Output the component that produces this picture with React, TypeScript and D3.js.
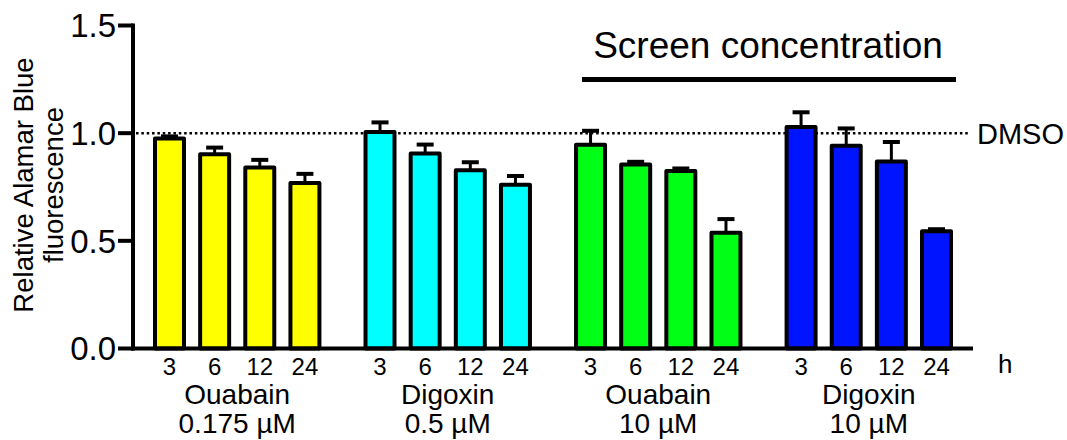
import React from "react";
import * as d3 from "d3";

// ---- Data ----
const drugNames = ["Ouabain", "Digoxin", "Ouabain", "Digoxin"];
const concentrations = ["0.175 µM", "0.5 µM", "10 µM", "10 µM"];
const hours = ["3", "6", "12", "24"];

const ouabainLowMean = [0.975, 0.902, 0.84, 0.769];
const ouabainLowSem = [0.01, 0.031, 0.036, 0.042];
const digoxinLowMean = [1.005, 0.905, 0.828, 0.761];
const digoxinLowSem = [0.045, 0.042, 0.037, 0.04];
const ouabainHighMean = [0.946, 0.855, 0.824, 0.538];
const ouabainHighSem = [0.065, 0.012, 0.012, 0.063];
const digoxinHighMean = [1.029, 0.942, 0.869, 0.544];
const digoxinHighSem = [0.068, 0.08, 0.09, 0.01];

const yTicks = [0, 0.5, 1.0, 1.5];
const dmsoLevel = 1.0;

const groupColors = ["#ffff00", "#00ffff", "#00ff14", "#0014ff"];

const means = [ouabainLowMean, digoxinLowMean, ouabainHighMean, digoxinHighMean];
const sems = [ouabainLowSem, digoxinLowSem, ouabainHighSem, digoxinHighSem];

const W = 1067;
const H = 440;
const FONT = "'Liberation Sans', Arial, Helvetica, sans-serif";

export default function App() {
  const groupIds = drugNames.map((_, i) => String(i));
  const y = d3.scaleLinear().domain([0, 1.5]).range([348.5, 25.5]);
  const xOuter = d3
    .scaleBand<string>()
    .domain(groupIds)
    .range([155, 951])
    .paddingInner(0.219)
    .paddingOuter(0);
  const xInner = d3
    .scaleBand<string>()
    .domain(hours)
    .range([0, xOuter.bandwidth()])
    .paddingInner(0.358)
    .paddingOuter(0);

  const axisX = 133;
  const axisEnd = 973;
  const bw = xInner.bandwidth();

  return (
    <svg
      width={W}
      height={H}
      viewBox={`0 0 ${W} ${H}`}
      style={{ position: "absolute", left: 0, top: 0, background: "#fff" }}
      fontFamily={FONT}
    >
      <rect x={0} y={0} width={W} height={H} fill="#fff" />

      {/* DMSO dotted reference line */}
      <line
        x1={axisX + 3}
        x2={970}
        y1={y(dmsoLevel)}
        y2={y(dmsoLevel)}
        stroke="#000"
        strokeWidth={2.5}
        strokeDasharray="2.5 2.85"
      />
      <text x={977} y={y(dmsoLevel) + 11} fontSize={29} fill="#000">
        DMSO
      </text>

      {/* Bars */}
      {groupIds.map((g, gi) => (
        <g key={g} transform={`translate(${xOuter(g)},0)`}>
          {hours.map((h, hi) => {
            const v = means[gi][hi];
            const e = sems[gi][hi];
            const x0 = xInner(h)!;
            const cx = x0 + bw / 2;
            return (
              <g key={h}>
                <line
                  x1={cx}
                  x2={cx}
                  y1={y(v)}
                  y2={y(v + e)}
                  stroke="#000"
                  strokeWidth={3}
                />
                <line
                  x1={cx - 8.5}
                  x2={cx + 8.5}
                  y1={y(v + e)}
                  y2={y(v + e)}
                  stroke="#000"
                  strokeWidth={4}
                />
                <rect
                  x={x0}
                  y={y(v)}
                  width={bw}
                  height={y(0) - y(v)}
                  fill={groupColors[gi]}
                  stroke="#000"
                  strokeWidth={4}
                  strokeLinejoin="round"
                />
                <text
                  x={cx}
                  y={375}
                  fontSize={24}
                  textAnchor="middle"
                  fill="#000"
                >
                  {h}
                </text>
              </g>
            );
          })}
          <text
            x={xOuter.bandwidth() / 2}
            y={404}
            fontSize={28}
            textAnchor="middle"
            fill="#000"
          >
            {drugNames[gi]}
          </text>
          <text
            x={xOuter.bandwidth() / 2}
            y={432.5}
            fontSize={28}
            textAnchor="middle"
            fill="#000"
          >
            {concentrations[gi]}
          </text>
        </g>
      ))}

      {/* Y axis */}
      <line
        x1={axisX}
        x2={axisX}
        y1={y(1.5) - 2}
        y2={y(0) + 2}
        stroke="#000"
        strokeWidth={4}
      />
      {yTicks.map((t) => (
        <g key={t}>
          <line
            x1={axisX - 15}
            x2={axisX}
            y1={y(t)}
            y2={y(t)}
            stroke="#000"
            strokeWidth={4}
          />
          <text
            x={116}
            y={y(t) + 11.8}
            fontSize={33}
            textAnchor="end"
            fill="#000"
          >
            {d3.format(".1f")(t)}
          </text>
        </g>
      ))}

      {/* X axis */}
      <line
        x1={axisX - 2}
        x2={axisEnd}
        y1={y(0)}
        y2={y(0)}
        stroke="#000"
        strokeWidth={4}
      />
      <text x={998} y={373} fontSize={26} fill="#000">
        h
      </text>

      {/* Y label */}
      <text
        transform="translate(33,185) rotate(-90)"
        fontSize={27.5}
        textAnchor="middle"
        fill="#000"
      >
        Relative Alamar Blue
      </text>
      <text
        transform="translate(63,185) rotate(-90)"
        fontSize={27.5}
        textAnchor="middle"
        fill="#000"
      >
        fluorescence
      </text>

      {/* Screen concentration annotation */}
      <text x={768} y={58} fontSize={37} textAnchor="middle" fill="#000">
        Screen concentration
      </text>
      <line x1={582} x2={956} y1={79.5} y2={79.5} stroke="#000" strokeWidth={5} />
    </svg>
  );
}
